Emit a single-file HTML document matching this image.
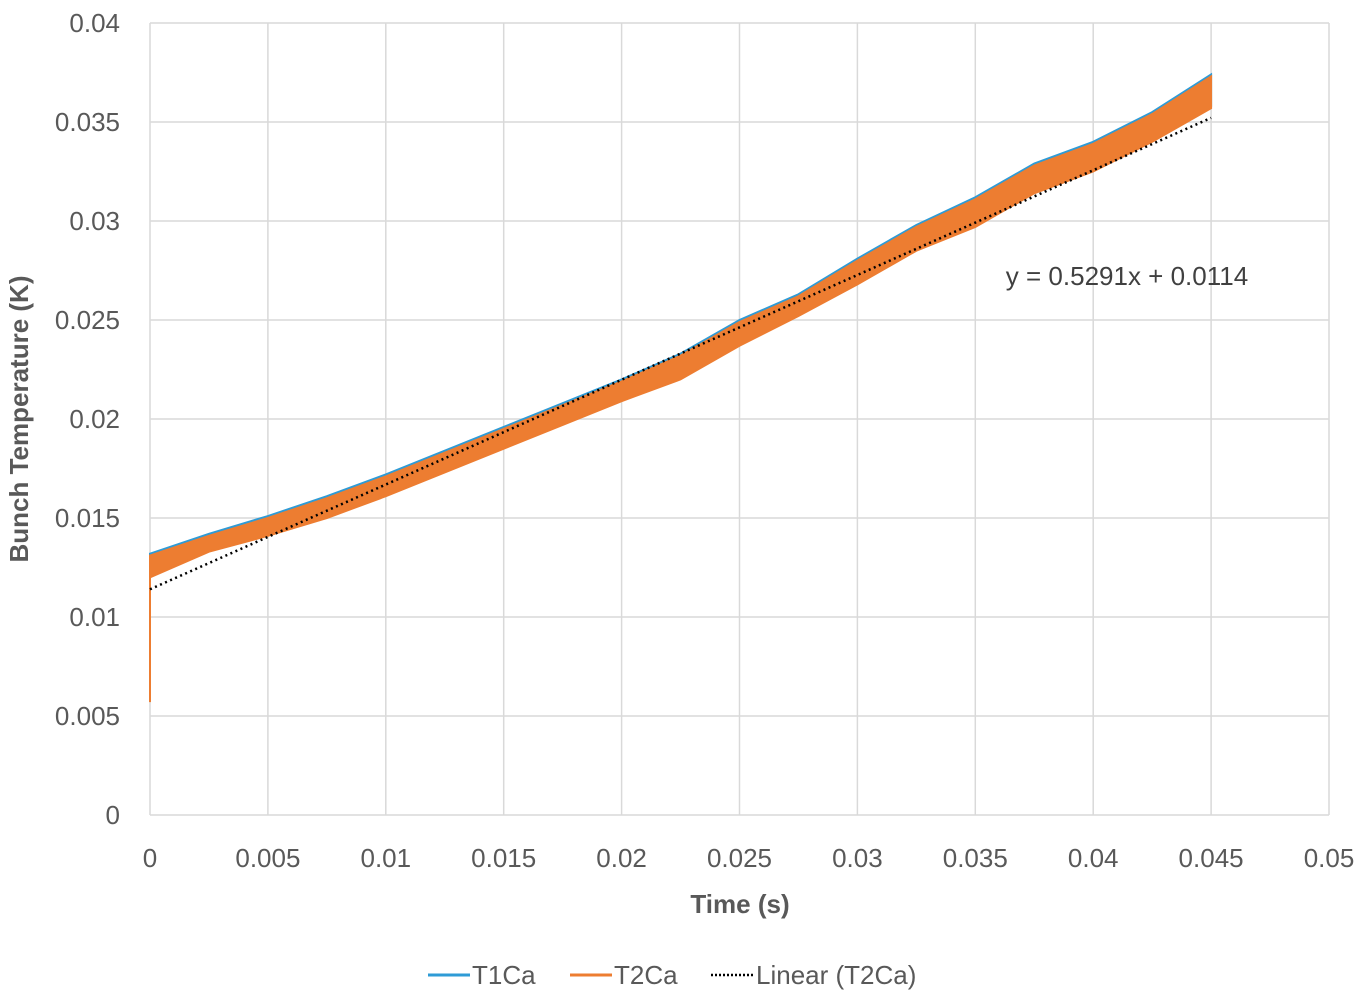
<!DOCTYPE html>
<html><head><meta charset="utf-8"><style>
html,body{margin:0;padding:0;background:#fff;}
svg text{font-family:"Liberation Sans",sans-serif;}
</style></head><body>
<svg id="chart" width="1365" height="1001">
<g id="grid"></g>
<g id="series"></g>
<g id="labels"></g>
<text x="1127" y="285" font-size="26" fill="#404040" text-anchor="middle">y = 0.5291x + 0.0114</text>
<text x="740" y="913" font-size="26" font-weight="bold" fill="#595959" text-anchor="middle">Time (s)</text>
<text transform="translate(28,419) rotate(-90)" font-size="26" font-weight="bold" fill="#595959" text-anchor="middle">Bunch Temperature (K)</text>
<g>
<g><line x1="428" y1="975" x2="470" y2="975" stroke="#2E9BD6" stroke-width="3"/><text x="472" y="984" font-size="26" fill="#595959">T1Ca</text></g>
<g><line x1="570" y1="975" x2="612" y2="975" stroke="#ED7D31" stroke-width="3"/><text x="614" y="984" font-size="26" fill="#595959">T2Ca</text></g>
<g><line x1="711" y1="975" x2="753" y2="975" stroke="#000" stroke-width="2.5" stroke-dasharray="2,2"/><text x="756" y="984" font-size="26" fill="#595959">Linear (T2Ca)</text></g>
</g>
</svg>
<script>
const times=[0,0.0025,0.005,0.0075,0.01,0.0125,0.015,0.0175,0.02,0.0225,0.025,0.0275,0.03,0.0325,0.035,0.0375,0.04,0.0425,0.045];
const t2Upper=[0.0131,0.0141,0.0150,0.0160,0.0171,0.0183,0.0195,0.0207,0.0219,0.0232,0.0249,0.0262,0.0280,0.0297,0.0311,0.0328,0.0339,0.0354,0.0373];
const t2Lower=[0.0120,0.0133,0.0141,0.0150,0.0161,0.0173,0.0185,0.0197,0.0209,0.0220,0.0237,0.0252,0.0268,0.0285,0.0297,0.0314,0.0325,0.0340,0.0357];
const t1Offset=[0.0001,0.0001,0.0001,0.0001,0.0001,0.0001,0.0001,0.0001,0.0001,0.0001,0.0001,0.0001,0.0001,0.0001,0.0001,0.0001,0.0001,0.0001,0.0001];
const startDrop=[0.0057,0.0125];
const slope=0.5291, intercept=0.0114;
const xTicks=[0,0.005,0.01,0.015,0.02,0.025,0.03,0.035,0.04,0.045,0.05];
const xTickLabels=["0","0.005","0.01","0.015","0.02","0.025","0.03","0.035","0.04","0.045","0.05"];
const yTicks=[0,0.005,0.01,0.015,0.02,0.025,0.03,0.035,0.04];
const yTickLabels=["0","0.005","0.01","0.015","0.02","0.025","0.03","0.035","0.04"];
const NS="http://www.w3.org/2000/svg";
const X=v=>150+v/0.05*1179, Y=v=>815-v/0.04*792;
function mk(tag,attrs,parent){const e=document.createElementNS(NS,tag);for(const k in attrs)e.setAttribute(k,attrs[k]);parent.appendChild(e);return e;}
const grid=document.getElementById('grid'),ser=document.getElementById('series'),lab=document.getElementById('labels');
xTicks.forEach((t,i)=>{const l=mk('line',{x1:X(t),x2:X(t),y1:Y(0.04),y2:Y(0),stroke:'#D9D9D9','stroke-width':1.5},grid);

const tx=mk('text',{x:X(t),y:867,'font-size':26,fill:'#595959','text-anchor':'middle'},lab);tx.textContent=xTickLabels[i];
});
yTicks.forEach((t,i)=>{const l=mk('line',{x1:X(0),x2:X(0.05),y1:Y(t),y2:Y(t),stroke:'#D9D9D9','stroke-width':1.5},grid);

const tx=mk('text',{x:120,y:Y(t)+9,'font-size':26,fill:'#595959','text-anchor':'end'},lab);tx.textContent=yTickLabels[i];
});
function band(up,lo,off,color,name){let d='M'+times.map((t,i)=>X(t)+','+Y(up[i]+off[i])).join(' L');
d+=' L'+times.slice().reverse().map((t,j)=>{const i=times.length-1-j;return X(t)+','+Y(lo[i]+off[i]);}).join(' L')+'Z';
const p=mk('path',{d:d,fill:color,stroke:color,'stroke-width':2},ser);}
const zero=times.map(()=>0);
band(t2Upper,t2Lower,t1Offset,'#2E9BD6','series-t1ca');
band(t2Upper,t2Lower,zero,'#ED7D31','series-t2ca');
const dr=mk('line',{x1:X(0),x2:X(0),y1:Y(startDrop[0]),y2:Y(startDrop[1]),stroke:'#ED7D31','stroke-width':2},ser);

const tr=mk('line',{x1:X(0),y1:Y(intercept),x2:X(0.045),y2:Y(intercept+slope*0.045),stroke:'#000','stroke-width':2.5,'stroke-dasharray':'2,3.5'},ser);

</script>
</body></html>
